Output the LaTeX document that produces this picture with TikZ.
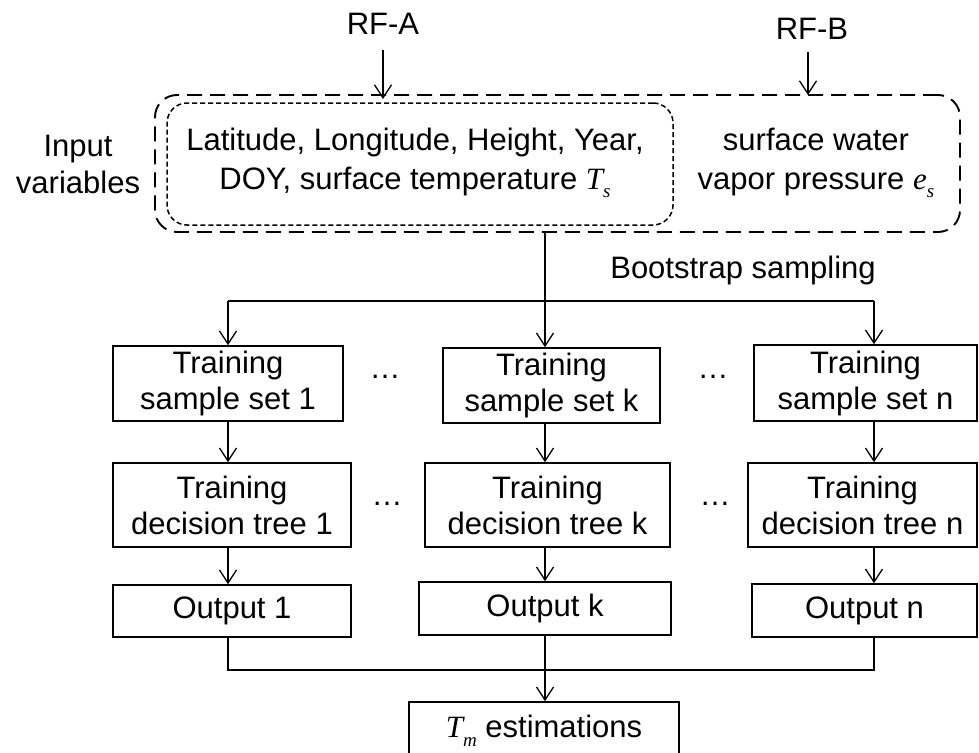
\documentclass[tikz,border=0pt]{standalone}
\usepackage{fontspec}
\setmainfont{Liberation Sans}
\newfontfamily\tms{Liberation Serif}
\usetikzlibrary{arrows.meta}
\newcommand\varsub[2]{{\tms\itshape #1}\raisebox{-0.28em}{\fontsize{19}{19}\selectfont\tms\itshape #2}}
\begin{document}
\begin{tikzpicture}[x=1pt,y=-1pt,
  txt/.style={font=\fontsize{31}{36}\selectfont, align=center, inner sep=0pt},
  box/.style={txt, draw, line width=1.6pt},
  conn/.style={line width=1.3pt},
  arr/.style={conn, -{Straight Barb[length=13pt,width=17pt]}},
  outerdash/.style={draw, line width=1.9pt, dash pattern=on 15pt off 8pt, rounded corners=22pt, inner sep=0pt},
  innerdash/.style={draw, line width=1.5pt, dash pattern=on 5pt off 3pt, rounded corners=20pt, inner sep=0pt}
]
\useasboundingbox (0,0) rectangle (979,752);

% top labels
\node[txt] (rfa) at (383,24) {RF-A};
\node[txt] (rfb) at (812,29) {RF-B};
\coordinate (rfaS) at (383,50);
\coordinate (rfaE) at (383,99);
\coordinate (rfbS) at (808,52);
\coordinate (rfbE) at (808,95);
\draw[arr] (rfaS) -- (rfaE);
\draw[arr] (rfbS) -- (rfbE);

% input variable boxes
\node[outerdash, minimum width=805, minimum height=137] (outer) at (557.5,163.5) {};
\node[innerdash, minimum width=506, minimum height=122] (inner) at (420,164) {};
\node[txt, font=\fontsize{31}{39}\selectfont] (lat) at (415,163) {Latitude, Longitude, Height, Year,\\DOY, surface temperature \varsub{T}{s}};
\node[txt, font=\fontsize{31}{39}\selectfont] (swv) at (816,163) {surface water\\vapor pressure \varsub{e}{s}};
\node[txt, font=\fontsize{31}{37}\selectfont] (inp) at (78,164) {Input\\variables};

% bootstrap split
\coordinate (vtop) at (545,232);
\coordinate (split) at (545,301);
\coordinate (bl) at (228,301);
\coordinate (br) at (874,301);
\node[txt] (boot) at (743,270) {Bootstrap sampling};

% row 1
\node[box, minimum width=230, minimum height=75] (s1) at (228,383.5) {Training\\sample set 1};
\node[box, minimum width=217, minimum height=75] (sk) at (551.5,385.5) {Training\\sample set k};
\node[box, minimum width=223, minimum height=76] (sn) at (865.5,383) {Training\\sample set n};
% row 2
\node[box, minimum width=238, minimum height=84] (t1) at (232,505) {Training\\decision tree 1};
\node[box, minimum width=245, minimum height=84] (tk) at (547.5,505) {Training\\decision tree k};
\node[box, minimum width=229, minimum height=84] (tn) at (862.5,505) {Training\\decision tree n};
% row 3
\node[box, minimum width=238, minimum height=52] (o1) at (232,611) {Output 1};
\node[box, minimum width=252, minimum height=53] (ok) at (545,608.5) {Output k};
\node[box, minimum width=225, minimum height=53] (on) at (864.5,610.5) {Output n};
% final
\node[box, minimum width=270, minimum height=58] (fin) at (544,731) {\varsub{T}{m} estimations};

% dots
\node[txt, anchor=base] (d1) at (385,378) {…};
\node[txt, anchor=base] (d2) at (713,378) {…};
\node[txt, anchor=base] (d3) at (387,505) {…};
\node[txt, anchor=base] (d4) at (715,505) {…};

% connectors
\draw[conn] (vtop) -- (split);
\draw[conn] (bl) -- (br);
\draw[arr] (bl) -- (s1.north -| bl);
\draw[arr] (split) -- (sk.north -| split);
\draw[arr] (br) -- (sn.north -| br);

\draw[arr] (s1.south -| bl) -- (t1.north -| bl);
\draw[arr] (sk.south -| split) -- (tk.north -| split);
\draw[arr] (sn.south -| br) -- (tn.north -| br);

\draw[arr] (t1.south -| bl) -- (o1.north -| bl);
\draw[arr] (tk.south -| split) -- (ok.north -| split);
\draw[arr] (tn.south -| br) -- (on.north -| br);

\coordinate (ml) at (228,670);
\coordinate (mr) at (874,670);
\draw[conn] (o1.south -| bl) -- (ml) -- (mr) -- (on.south -| br);
\draw[arr] (ok.south -| split) -- (fin.north -| split);
\end{tikzpicture}
\end{document}
